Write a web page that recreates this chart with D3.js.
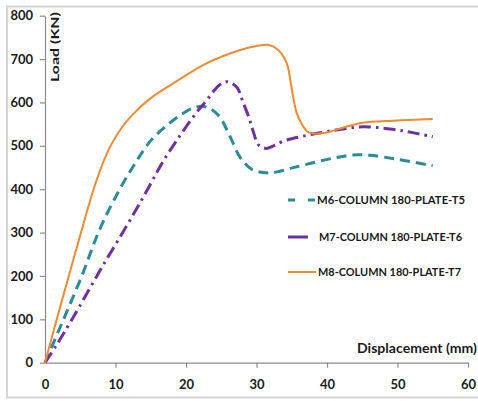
<!DOCTYPE html>
<html>
<head>
<meta charset="utf-8">
<script src="https://cdn.jsdelivr.net/npm/d3@7/dist/d3.min.js"></script>
<style>
  html, body { margin: 0; padding: 0; background: #fff; }
  svg { display: block; font-family: Lato, "Open Sans", "Liberation Sans", sans-serif; }
</style>
</head>
<body>
<svg id="chart" width="478" height="401"></svg>
<script>
// ---- data ----
const xTicks = [0, 10, 20, 30, 40, 50, 60];
const yTicks = [0, 100, 200, 300, 400, 500, 600, 700, 800];
const seriesNames = ["M6-COLUMN 180-PLATE-T5", "M7-COLUMN 180-PLATE-T6", "M8-COLUMN 180-PLATE-T7"];

const m6Disp = [0, 2.6, 5.2, 7.7, 10.6, 13, 15, 17.5, 19.5, 21, 22.3, 23.5, 24.8, 26.2, 27.7, 29.3, 30.8, 32.3, 34.8, 38, 41, 43.7, 46.1, 50, 55];
const m6Load = [0, 99, 199, 305, 400, 465, 512, 550, 574, 587, 591, 585, 566, 523, 473, 446, 439, 438, 448, 461, 472, 479, 478, 469, 454];

const m7Disp = [0, 1.6, 3.8, 8, 12.4, 14.8, 16.6, 19, 21.5, 22.9, 24.4, 25.7, 27.2, 28.1, 29, 29.5, 30.3, 31.4, 32.4, 34, 35.7, 39, 42, 45.1, 48.9, 52, 55];
const m7Load = [0, 40, 99, 218, 338, 407, 460, 520, 577, 604, 635, 648, 635, 600, 562, 535, 502, 494, 500, 512, 519, 530, 538, 544, 539, 531, 521];

const m8Disp = [0, 2, 4.5, 7.3, 9.2, 10.8, 12.5, 15, 18.2, 22.9, 27.7, 30, 31.6, 33, 34.3, 34.8, 35.2, 35.7, 36.5, 37.3, 38.5, 40.3, 42.7, 45.1, 49.4, 55];
const m8Load = [0, 120, 265, 420, 497, 540, 573, 610, 644, 690, 721, 730, 733, 722, 690, 651, 613, 576, 548, 532, 528, 532, 544, 553, 558, 562];

const colors = ["#2A8B99", "#7030A0", "#F08A32"];

// ---- layout ----
const svg = d3.select("#chart");
const x = d3.scaleLinear().domain([0, 60]).range([45, 468]);
const y = d3.scaleLinear().domain([0, 800]).range([362.7, 15.7]);

// outer frame
svg.append("rect").attr("x", 7).attr("y", 6.5).attr("width", 480).attr("height", 391)
  .attr("fill", "none").attr("stroke", "#d4d4d4").attr("stroke-width", 2);

// y axis
const yAxis = svg.append("g").attr("transform", "translate(45,0)")
  .call(d3.axisLeft(y).tickValues(yTicks).tickSize(5).tickPadding(7).tickSizeOuter(0));
// x axis
const xAxis = svg.append("g").attr("transform", "translate(0,362.7)")
  .call(d3.axisBottom(x).tickValues(xTicks).tickSize(5).tickPadding(12).tickSizeOuter(0));

[yAxis, xAxis].forEach(g => {
  g.select(".domain").attr("stroke", "#8c8c8c").attr("stroke-width", 1.2);
  g.selectAll(".tick line").attr("stroke", "#8c8c8c").attr("stroke-width", 1.2);
  g.selectAll(".tick text").attr("fill", "#1a1a1a").attr("font-size", 13).attr("font-weight", "bold")
    .attr("font-family", "Lato, sans-serif");
});
xAxis.selectAll(".tick").filter(d => d === 0).select("line").remove();

// axis titles
svg.append("text").attr("transform", "translate(59,12) rotate(-90)")
  .attr("text-anchor", "end").attr("font-size", 12).attr("font-weight", "bold").attr("fill", "#1a1a1a")
  .attr("textLength", 70).attr("lengthAdjust", "spacingAndGlyphs")
  .text("Load (KN)");
svg.append("text").attr("x", 357).attr("y", 353)
  .attr("font-size", 12.5).attr("font-weight", "bold").attr("fill", "#1a1a1a")
  .attr("textLength", 120).attr("lengthAdjust", "spacingAndGlyphs")
  .text("Displacement (mm)");

// lines
const line = d3.line().x(d => x(d[0])).y(d => y(d[1])).curve(d3.curveCatmullRom.alpha(0.5));
const series = [
  { pts: d3.zip(m6Disp, m6Load), color: colors[0], width: 3, dash: "10,6" },
  { pts: d3.zip(m7Disp, m7Load), color: colors[1], width: 3, dash: "12,5,2.5,5" },
  { pts: d3.zip(m8Disp, m8Load), color: colors[2], width: 2, dash: null }
];
series.forEach(s => {
  svg.append("path").datum(s.pts).attr("d", line)
    .attr("fill", "none").attr("stroke", s.color).attr("stroke-width", s.width)
    .attr("stroke-dasharray", s.dash);
});

// legend
const legY = [200, 237, 272];
const legSample = [
  { x2: 315, dash: "7,13", w: 3 },
  { x2: 308, dash: null, w: 3 },
  { x2: 316, dash: null, w: 2 }
];
const legTextX = [317, 319, 318];
seriesNames.forEach((name, i) => {
  svg.append("line").attr("x1", 288).attr("x2", legSample[i].x2)
    .attr("y1", legY[i]).attr("y2", legY[i])
    .attr("stroke", colors[i]).attr("stroke-width", legSample[i].w)
    .attr("stroke-dasharray", legSample[i].dash);
  svg.append("text").attr("x", legTextX[i]).attr("y", legY[i]).attr("dy", "0.36em")
    .attr("font-size", 12).attr("font-weight", "bold").attr("fill", "#1a1a1a")
    .attr("textLength", i === 0 ? 148 : 143).attr("lengthAdjust", "spacingAndGlyphs")
    .text(name);
});
</script>
</body>
</html>
